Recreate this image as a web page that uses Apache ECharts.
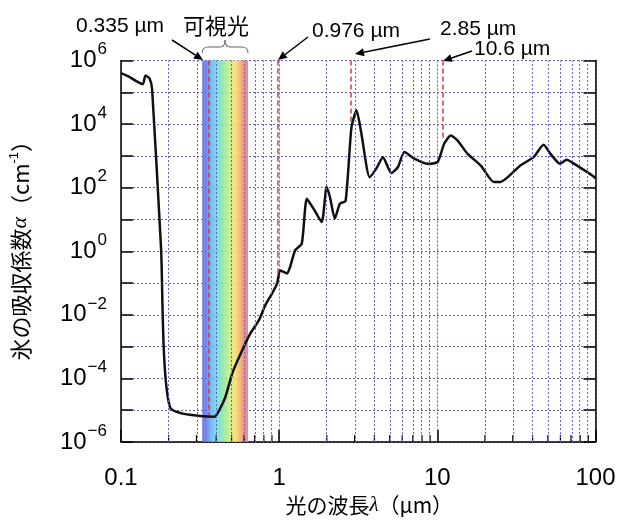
<!DOCTYPE html>
<html><head><meta charset="utf-8">
<script src="https://cdn.jsdelivr.net/npm/echarts@6/dist/echarts.min.js"></script>
<style>html,body{margin:0;padding:0;background:#fff}#c{width:620px;height:522px}</style>
</head><body><div id="c"></div>
<script>
// wavelength (µm) and absorption coefficient (cm^-1)
const wavelengths = [0.1,0.1135,0.124,0.1374,0.1429,0.1517,0.1574,0.179,0.204,0.388,0.407,0.457,0.506,0.585,0.658,0.745,0.817,0.904,0.971,1.014,1.122,1.172,1.262,1.39,1.496,1.648,1.858,1.995,2.094,2.249,2.421,2.63,2.864,3.083,3.311,3.733,4.11,4.53,5.12,5.64,6.19,7.16,8.69,10.05,11.04,12.16,13.4,15.49,18.79,22.75,25.06,33.5,40.6,47.0,51.8,59.7,65.8,76.0,96.8,100];
const alphas = [3.98e5,3.0e5,2.3e5,1.8e5,3.4e5,2.7e5,1.2e5,1.35,1.26e-5,6.2e-6,7.9e-6,2.6e-5,1.48e-4,7.8e-4,2.6e-3,6.8e-3,0.020,0.048,0.098,0.25,0.20,0.32,1.07,1.74,44.7,21.9,8.3,105,51,10.7,31.6,38,7.9e3,2.7e4,5.0e3,214,398,912,288,447,1318,813,562,646,2400,4365,3090,1175,501,151,151,501,912,2240,1175,562,759,501,229,195];
const xTickLabels = ['0.1','1','10','100'];
const yLabelExponents = [-6,-4,-2,0,2,4,6];
const minorGridWavelengths = [0.2,0.3,0.4,0.5,0.6,0.7,0.8,0.9,2,3,4,5,6,7,8,9,20,30,40,50,60,70,80,90];
const markerWavelengths = [0.36,0.976,2.85,10.8];
const markerEndAlphas = [7e-6,0.2,1e4,3.2e3];
const visibleBand = [0.326,0.635];

const L = Math.log10;
const curve = wavelengths.map((w,i)=>[L(w),L(alphas[i])]);
function expStr(n){return String(n).replace('-','−');}

const chart = echarts.init(document.getElementById('c'));
const gridColor = '#6464c0';
const option = {
  animation:false,
  grid:{left:118.5,right:24.5,top:60.5,bottom:80},
  xAxis:{type:'value',min:-1,max:2,interval:1,
    axisLine:{show:true,onZero:false,lineStyle:{color:'#000',width:1.5}},
    axisTick:{show:true,inside:true,length:12,lineStyle:{color:'#000',width:1.5}},
    axisLabel:{margin:24,fontSize:24,color:'#000',fontFamily:'Liberation Sans',
      formatter:v=>xTickLabels[Math.round(v)+1]},
    splitLine:{show:true,lineStyle:{color:gridColor,type:[2,2],width:1}},
    name:'光の波長{i|λ}（µm）',nameLocation:'middle',nameGap:52,
    nameTextStyle:{fontSize:21,color:'#000',fontFamily:'Noto Sans CJK JP',padding:[0,0,0,22],
      rich:{i:{fontSize:21,fontStyle:'italic',fontFamily:'Liberation Serif',color:'#000'}}}
  },
  yAxis:[{type:'value',min:-6,max:6,interval:1,position:'left',
    axisLine:{show:true,onZero:false,lineStyle:{color:'#000',width:1.5}},
    axisTick:{show:true,inside:true,length:12,lineStyle:{color:'#000',width:1.5}},
    axisLabel:{margin:14,color:'#000',
      formatter:v=>{const n=Math.round(v); return yLabelExponents.indexOf(n)>=0?('{b|10}{s|'+expStr(n)+'}'):'';},
      rich:{b:{fontSize:24,fontFamily:'Liberation Sans',color:'#000'},
            s:{fontSize:17,fontFamily:'Liberation Sans',color:'#000',padding:[0,0,22,1]}}},
    splitLine:{show:true,lineStyle:{color:gridColor,type:[2,2],width:1}},
    name:'氷の吸収係数{i|α}（cm{s|-1}）',nameLocation:'middle',nameGap:88,
    nameTextStyle:{fontSize:22,color:'#000',fontFamily:'Noto Sans CJK JP',padding:[0,0,0,12],
      rich:{i:{fontSize:22,fontStyle:'italic',fontFamily:'Liberation Serif',color:'#000'},
            s:{fontSize:13,fontFamily:'Liberation Sans',color:'#000',padding:[0,0,12,0]}}}
  },{type:'value',min:-6,max:6,interval:1,position:'right',
    axisLine:{show:true,onZero:false,lineStyle:{color:'#000',width:1.5}},
    axisTick:{show:true,inside:true,length:12,lineStyle:{color:'#000',width:1.5}},
    axisLabel:{show:false},splitLine:{show:false}}],
  series:[
    {type:'custom',silent:true,z:1,clip:false,
      data:minorGridWavelengths.map(w=>[L(w),-6]),
      renderItem:(params,api)=>{const p=api.coord([api.value(0),-6]);
        return {type:'line',shape:{x1:p[0],y1:p[1],x2:p[0],y2:p[1]-7},style:{stroke:'#000',lineWidth:1.2}};},
      markLine:{silent:true,symbol:'none',label:{show:false},
        lineStyle:{color:gridColor,type:[2,2],width:1},
        data:minorGridWavelengths.map(w=>({xAxis:L(w)}))}
    },
    {type:'line',name:'ice',data:curve,showSymbol:false,symbol:'none',smooth:0.2,z:2,
      lineStyle:{color:'#111',width:2.5}},
    {type:'line',data:[],z:3,
      markArea:{silent:true,
        itemStyle:{opacity:0.85,color:{type:'linear',x:0,y:0,x2:1,y2:0,colorStops:[
          {offset:0,color:'#5c66e4'},{offset:0.1,color:'#5c78ea'},{offset:0.2,color:'#5fb4f0'},
          {offset:0.32,color:'#6ad8e6'},{offset:0.45,color:'#86e6a0'},{offset:0.6,color:'#c8ec7a'},
          {offset:0.72,color:'#f6e06a'},{offset:0.84,color:'#f6a866'},{offset:0.92,color:'#ee7c72'},
          {offset:1,color:'#ec7474'}]}},
        data:[[{xAxis:L(visibleBand[0]),yAxis:-6},{xAxis:L(visibleBand[1]),yAxis:6}]]}},
    {type:'line',data:[],z:4,
      markLine:{silent:true,symbol:'none',label:{show:false},
        lineStyle:{color:'#d03838',type:[5,3],width:1.5},
        data:markerWavelengths.map((w,i)=>[{coord:[L(w),6]},{coord:[L(w),L(markerEndAlphas[i])]}])}}
  ]
};
chart.setOption(option);

function arrow(x1,y1,x2,y2){
  const a=Math.atan2(y2-y1,x2-x1),len=9,w=4;
  const bx=x2-len*Math.cos(a),by=y2-len*Math.sin(a);
  const nx=-Math.sin(a)*w,ny=Math.cos(a)*w;
  return [{type:'line',shape:{x1:x1,y1:y1,x2:bx,y2:by},style:{stroke:'#000',lineWidth:1.5}},
    {type:'polygon',shape:{points:[[x2,y2],[bx+nx,by+ny],[bx-nx,by-ny]]},style:{fill:'#000'}}];
}
const bx0=chart.convertToPixel({xAxisIndex:0},L(visibleBand[0]));
const bx1=chart.convertToPixel({xAxisIndex:0},L(visibleBand[1]));
const bc=(bx0+bx1)/2;
const txt=(t,x,y,align,font,size)=>({type:'text',x:x,y:y,style:{text:t,align:align,verticalAlign:'middle',fill:'#000',fontSize:size,fontFamily:font}});
const braceStyle={stroke:'#777',lineWidth:1.2,fill:null};
const g=[
  txt('0.335 µm',164,26,'right','Liberation Sans',21),
  txt('可視光',183,26,'left','Noto Sans CJK JP',22),
  txt('0.976 µm',312,31,'left','Liberation Sans',21),
  txt('2.85 µm',440,29,'left','Liberation Sans',21),
  txt('10.6 µm',474,49,'left','Liberation Sans',21),
  {type:'bezierCurve',shape:{x1:bx0,y1:53,x2:bx0+6,y2:47,cpx1:bx0,cpy1:47},style:braceStyle},
  {type:'line',shape:{x1:bx0+6,y1:47,x2:bc-5,y2:47},style:braceStyle},
  {type:'bezierCurve',shape:{x1:bc-5,y1:47,x2:bc,y2:40,cpx1:bc,cpy1:47},style:braceStyle},
  {type:'bezierCurve',shape:{x1:bc,y1:40,x2:bc+5,y2:47,cpx1:bc,cpy1:47},style:braceStyle},
  {type:'line',shape:{x1:bc+5,y1:47,x2:bx1-6,y2:47},style:braceStyle},
  {type:'bezierCurve',shape:{x1:bx1-6,y1:47,x2:bx1,y2:53,cpx1:bx1,cpy1:47},style:braceStyle}
].concat(arrow(172,40,203,60),arrow(308,37,278,60),arrow(430,39,355,54),arrow(472,51,443,61));
chart.setOption({graphic:g});
</script></body></html>
